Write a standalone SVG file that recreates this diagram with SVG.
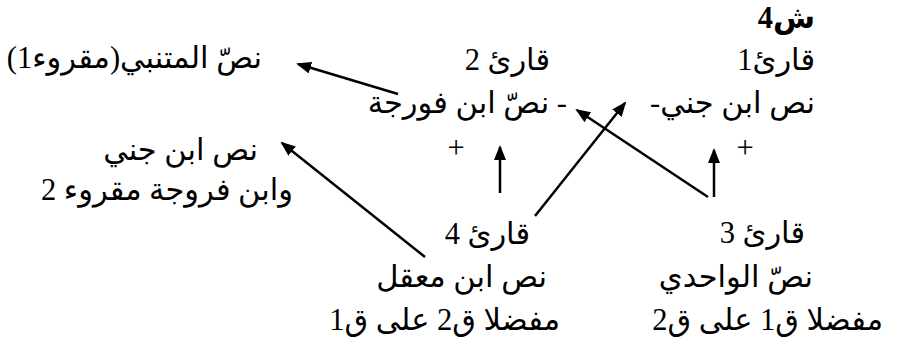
<svg xmlns="http://www.w3.org/2000/svg" width="898" height="342" viewBox="0 0 898 342">
<style>
text{font-family:"Liberation Serif","DejaVu Sans",serif;font-size:30.5px;fill:#000;direction:rtl;unicode-bidi:embed;text-anchor:start}
.b{font-weight:bold}
.p{direction:ltr;text-anchor:middle}
.c{stroke:#000;stroke-width:2.5;fill:none;marker-end:url(#ah)}
</style>
<defs>
<marker id="ah" viewBox="0 0 15 12" refX="13" refY="6" markerWidth="15" markerHeight="12" markerUnits="userSpaceOnUse" orient="auto">
<path d="M0,0 L15,6 L0,12 z" fill="#000"/>
</marker>
</defs>
<g id="title"><text class="b" x="815" y="28">ش4</text></g>
<g id="q1"><text x="815" y="70">قارئ1</text><text x="815" y="113">نص ابن جني-</text><text class="p" x="745" y="158">+</text></g>
<g id="q2"><text x="550" y="70">قارئ  2</text><text x="567" y="113">- نصّ ابن فورجة</text><text class="p" x="456" y="158">+</text></g>
<g id="m1"><text x="262" y="68">نصّ المتنبي(مقروء1)</text></g>
<g id="m2"><text x="258" y="160">نص ابن جني</text><text x="293" y="200">وابن فروجة مقروء 2</text></g>
<g id="q4"><text x="530" y="244">قارئ 4</text><text x="547" y="287">نص ابن معقل</text><text x="560" y="330">مفضلا ق2 على ق1</text></g>
<g id="q3"><text x="805" y="243">قارئ 3</text><text x="813" y="287">نصّ الواحدي</text><text x="883" y="330">مفضلا ق1 على ق2</text></g>
<g id="connectors">
<line class="c" x1="398" y1="94" x2="298" y2="64"/>
<line class="c" x1="425" y1="257" x2="282" y2="143"/>
<line class="c" x1="500" y1="193" x2="500" y2="147"/>
<line class="c" x1="535" y1="216" x2="625" y2="103"/>
<line class="c" x1="708" y1="197" x2="577" y2="110"/>
<line class="c" x1="714" y1="197" x2="714" y2="150"/>
</g>
</svg>
